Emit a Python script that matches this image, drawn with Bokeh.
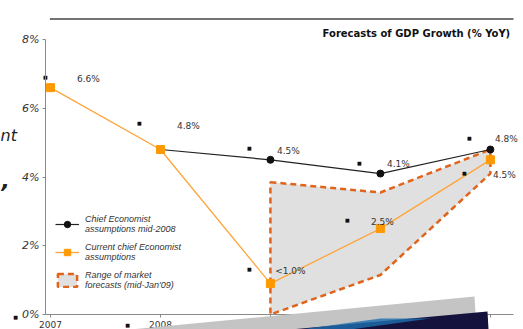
from bokeh.plotting import figure
from bokeh.models import (ColumnDataSource, Legend, LegendItem, Label,
                          PolyAnnotation, Range1d)
from bokeh.core.properties import value
from bokeh.embed import file_html
from bokeh.resources import INLINE

# ---------------- data ----------------
years = [2007, 2008, 2009, 2010, 2011]
# the 2011 tick label is not visible in the reference (cut off by the photo)
year_labels = ["2007", "2008", "2009", "2010", ""]

current_years = [2007, 2008, 2009, 2010, 2011]
current_vals = [6.6, 4.8, 0.9, 2.5, 4.5]
current_labels = ["6.6%", "4.8%", "<1.0%", "2.5%", "4.5%"]

mid2008_years = [2008, 2009, 2010, 2011]
mid2008_vals = [4.8, 4.5, 4.1, 4.8]
mid2008_labels = ["", "4.5%", "4.1%", "4.8%"]

range_years = [2009, 2010, 2011]
range_high = [3.85, 3.55, 4.8]
range_low = [0.0, 1.15, 4.1]

y_ticks = [0, 2, 4, 6, 8]
y_tick_labels = ["0%", "2%", "4%", "6%", "8%"]

title_text = "Forecasts of GDP Growth (% YoY)"

# label / dot offsets in screen pixels (style, not data)
cur_lab_dx = [38, 28, 20, 2, 14]
cur_lab_dy = [-9, -24, -13, -7, 15]
cur_dot_dx = [-5, -21, -21, -33, -26]
cur_dot_dy = [-11, -27, -15, -9, 13]
mid_lab_dx = [0, 18, 18, 16]
mid_lab_dy = [0, -9, -10, -11]
mid_dot_dx = [0, -21, -21, -21]
mid_dot_dy = [0, -12, -11, -12]

FONT = "DejaVu Sans"
LFONT = "Liberation Sans"
ORANGE = "#FFA43A"
RANGE_EDGE = "#E0641C"

AX_X0, AX_X1 = 2006.955, 2011.21

p = figure(width=523, height=329, output_backend="svg", toolbar_location=None,
           x_range=Range1d(2006.546, 2011.301), y_range=Range1d(-0.436, 9.135),
           min_border=0, min_border_left=0, min_border_right=0,
           min_border_top=0, min_border_bottom=0)
p.outline_line_color = None
p.grid.grid_line_color = None
p.background_fill_color = "white"

# range of market forecasts
poly_x = range_years + range_years[::-1]
poly_y = range_high + range_low[::-1]
rng = p.patch(poly_x, poly_y, fill_color="#E0E0E0", line_color=RANGE_EDGE,
              line_width=2.5, line_dash="6 4")

# chief economist mid-2008
mid_src = ColumnDataSource(dict(x=mid2008_years, y=mid2008_vals, t=mid2008_labels,
                                ldx=mid_lab_dx, ldy=mid_lab_dy,
                                ddx=mid_dot_dx, ddy=mid_dot_dy,
                                dot=["" if s == "" else "\u25A0" for s in mid2008_labels]))
bl = p.line("x", "y", source=mid_src, line_color="#222222", line_width=1.2)
bs = p.scatter("x", "y", source=mid_src, marker="circle", size=7, color="#111111")

# current chief economist
cur_src = ColumnDataSource(dict(x=current_years, y=current_vals, t=current_labels,
                                ldx=cur_lab_dx, ldy=cur_lab_dy,
                                ddx=cur_dot_dx, ddy=cur_dot_dy,
                                dot=["\u25A0"] * len(current_labels)))
ol = p.line("x", "y", source=cur_src, line_color=ORANGE, line_width=1.3)
os_ = p.scatter("x", "y", source=cur_src, marker="square", size=8, color="#FF9900")

for src in (mid_src, cur_src):
    p.text("x", "y", text="t", source=src, x_offset="ldx", y_offset="ldy",
           text_align="center", text_baseline="middle", text_font=value(FONT),
           text_font_size="9px", text_color="#333333")
    p.text("x", "y", text="dot", source=src, x_offset="ddx", y_offset="ddy",
           text_align="center", text_baseline="middle", text_font=value(FONT),
           text_font_size="5px", text_color="#111111")

# axes (drawn at fixed positions inside the full-canvas frame)
p.yaxis.fixed_location = AX_X0
p.yaxis.ticker = y_ticks
p.yaxis.bounds = (0, 8)
p.yaxis.major_label_overrides = {t: l for t, l in zip(y_ticks, y_tick_labels)}
p.yaxis.major_label_text_font = FONT
p.yaxis.major_label_text_font_style = "italic"
p.yaxis.major_label_text_font_size = "11px"
p.yaxis.major_label_text_color = "#333333"
p.yaxis.axis_line_color = "#8a8a8a"
p.yaxis.major_tick_line_color = "#8a8a8a"
p.yaxis.major_tick_out = 3
p.yaxis.major_tick_in = 0
p.yaxis.minor_tick_line_color = None
p.yaxis.major_label_standoff = 3

p.xaxis.fixed_location = 0
p.xaxis.ticker = years
p.xaxis.bounds = (AX_X0, AX_X1)
p.xaxis.major_label_overrides = {y: l for y, l in zip(years, year_labels)}
p.xaxis.major_label_text_font = FONT
p.xaxis.major_label_text_font_size = "9px"
p.xaxis.major_label_text_color = "#333333"
p.xaxis.axis_line_color = "#8a8a8a"
p.xaxis.major_tick_line_color = "#8a8a8a"
p.xaxis.major_tick_out = 3
p.xaxis.major_tick_in = 0
p.xaxis.minor_tick_line_color = None
p.xaxis.major_label_standoff = 3

# title rule and title
p.line([AX_X0 + 0.04, AX_X1], [8.6, 8.6], line_color="#444444", line_width=1.5)
p.add_layout(Label(x=AX_X1 - 0.03, y=8.17, text=title_text, text_align="right",
                   text_baseline="middle", text_font=FONT, text_font_style="bold",
                   text_font_size="10px", text_color="#111111"))

# legend
legend = Legend(items=[
    LegendItem(label="Chief Economist\nassumptions mid-2008", renderers=[bl, bs]),
    LegendItem(label="Current chief Economist\nassumptions", renderers=[ol, os_]),
    LegendItem(label="Range of market\nforecasts (mid-Jan'09)", renderers=[rng]),
], location=(55, 39))
legend.label_text_font = LFONT
legend.label_text_font_style = "italic"
legend.label_text_font_size = "9px"
legend.label_text_color = "#333333"
legend.background_fill_alpha = 0
legend.border_line_color = None
legend.glyph_width = 24
legend.glyph_height = 16
legend.label_standoff = 6
legend.spacing = 8
legend.padding = 0
p.add_layout(legend, "center")

# fragments of the surrounding slide (screen units, origin bottom-left)
p.add_layout(Label(x=0, y=194, x_units="screen", y_units="screen", text="nt",
                   text_font=FONT, text_font_style="italic", text_font_size="16px",
                   text_color="#222222", text_baseline="middle"))
p.add_layout(Label(x=1, y=150, x_units="screen", y_units="screen", text=",",
                   text_font=FONT, text_font_style="bold italic", text_font_size="22px",
                   text_color="#222222", text_baseline="middle"))
for sx, sy in ((15, 13), (127, 5)):
    p.add_layout(Label(x=sx, y=sy, x_units="screen", y_units="screen", text="\u25A0",
                       text_font=FONT, text_font_size="5px", text_color="#111111",
                       text_align="center", text_baseline="middle"))
p.add_layout(PolyAnnotation(xs=[130, 474, 475, 300], ys=[0, 33, 16, 0],
                            xs_units="screen", ys_units="screen",
                            fill_color="#C4C4C4", fill_alpha=1, line_color=None))
p.add_layout(PolyAnnotation(xs=[290, 487, 488, 290], ys=[0, 18, 0, 0],
                            xs_units="screen", ys_units="screen",
                            fill_color="#16123E", fill_alpha=1, line_color=None))
p.add_layout(PolyAnnotation(xs=[300, 380, 430, 350], ys=[0, 11, 11, 0],
                            xs_units="screen", ys_units="screen",
                            fill_color="#1D6FB0", fill_alpha=0.8, line_color=None))

open("out.html", "w").write(file_html(p, INLINE))
